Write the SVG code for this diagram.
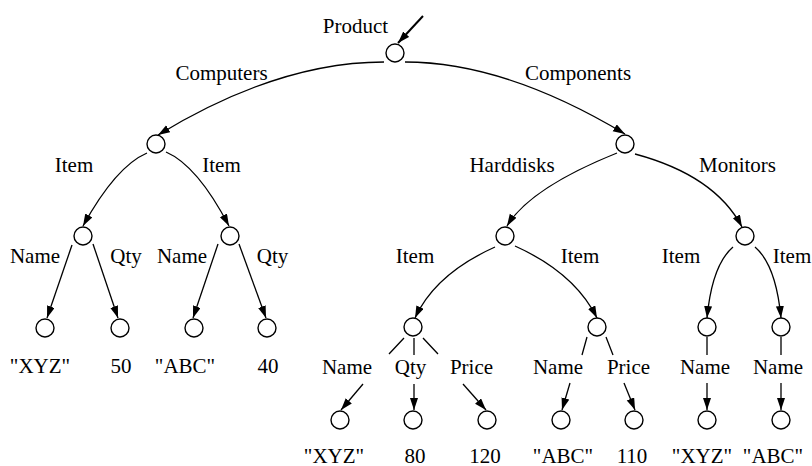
<svg xmlns="http://www.w3.org/2000/svg" width="812" height="466" viewBox="0 0 812 466">
<style>
  text { font-family: "Liberation Serif", "Times New Roman", serif; font-size: 21px; fill: #000; text-anchor: middle; }
  .node { fill: #fff; stroke: #000; stroke-width: 1.4; }
  .edge { fill: none; stroke: #000; stroke-width: 1.3; }
  .arr { marker-end: url(#ah); }
</style>
<defs>
  <marker id="ah" markerUnits="userSpaceOnUse" markerWidth="13" markerHeight="9" refX="12" refY="4" orient="auto">
    <path d="M0,0 L12,4 L0,8 z" fill="#000"/>
  </marker>
</defs>
<rect width="812" height="466" fill="#fff"/>

<g id="connectors">
  <path class="edge" d="M423,16 L398,43" style="stroke-width:2" marker-end="url(#ah)"/>
  <path class="edge arr" d="M384,62 Q278,62 158,135"/>
  <path class="edge arr" d="M405,62 Q505,62 625,134"/>
  <path class="edge arr" d="M147,153 Q115.7,166.5 83,226"/>
  <path class="edge arr" d="M166,152 Q197.3,165.5 229,226"/>
  <path class="edge arr" d="M617,153 Q530,188 507,226"/>
  <path class="edge arr" d="M635,154 Q715,175.5 742,227"/>
  <path class="edge arr" d="M72,245 L47,318"/>
  <path class="edge arr" d="M93,244 L118,318"/>
  <path class="edge arr" d="M218,244 L193,318"/>
  <path class="edge arr" d="M239,244 L266,318"/>
  <path class="edge arr" d="M495,247 Q435.3,273.9 415,318"/>
  <path class="edge arr" d="M515,246 Q574.7,272.9 597,318"/>
  <path class="edge arr" d="M733,247 Q712,265 707,318"/>
  <path class="edge arr" d="M755,247 Q776,265 781,318"/>
  <path class="edge" d="M404,338 L389,354 M414,338 L414,355 M423,338 L438,354"/>
  <path class="edge arr" d="M363,384 L341,410"/>
  <path class="edge arr" d="M414,384 L414,410"/>
  <path class="edge arr" d="M463,384 L486,410"/>
  <path class="edge" d="M587,337 L582,355 M606,337 L613,355"/>
  <path class="edge arr" d="M570,383 L562,410"/>
  <path class="edge arr" d="M624,383 L635,410"/>
  <path class="edge" d="M707,337 L707,355 M781,337 L781,355"/>
  <path class="edge arr" d="M707,383 L707,410"/>
  <path class="edge arr" d="M781,383 L781,410"/>
  <text x="221.5" y="80">Computers</text>
  <text x="578" y="80">Components</text>
  <text x="74" y="172">Item</text>
  <text x="221.5" y="172">Item</text>
  <text x="512" y="172">Harddisks</text>
  <text x="737.5" y="172">Monitors</text>
  <text x="35" y="263">Name</text>
  <text x="126" y="263">Qty</text>
  <text x="182" y="263">Name</text>
  <text x="272.5" y="263">Qty</text>
  <text x="415" y="263">Item</text>
  <text x="580" y="263">Item</text>
  <text x="681" y="263">Item</text>
  <text x="792" y="263">Item</text>
  <text x="347" y="374">Name</text>
  <text x="410.5" y="374">Qty</text>
  <text x="471.5" y="374">Price</text>
  <text x="558" y="374">Name</text>
  <text x="628.5" y="374">Price</text>
  <text x="705" y="374">Name</text>
  <text x="778" y="374">Name</text>
</g>

<g id="root"><circle class="node" cx="395" cy="53" r="9"/><text x="355.5" y="33">Product</text></g>
<g id="computers"><circle class="node" cx="156" cy="144" r="9"/></g>
<g id="components"><circle class="node" cx="625" cy="144" r="9"/></g>
<g id="c-item1"><circle class="node" cx="83" cy="236" r="9"/></g>
<g id="c-item2"><circle class="node" cx="230" cy="236" r="9"/></g>
<g id="c1-name"><circle class="node" cx="45" cy="328" r="9"/><text x="40" y="373">"XYZ"</text></g>
<g id="c1-qty"><circle class="node" cx="120" cy="328" r="9"/><text x="121" y="373">50</text></g>
<g id="c2-name"><circle class="node" cx="194" cy="328" r="9"/><text x="185" y="373">"ABC"</text></g>
<g id="c2-qty"><circle class="node" cx="267" cy="328" r="9"/><text x="268" y="373">40</text></g>
<g id="harddisks"><circle class="node" cx="505" cy="236" r="9"/></g>
<g id="monitors"><circle class="node" cx="745" cy="236" r="9"/></g>
<g id="h-item1"><circle class="node" cx="413" cy="327" r="9"/></g>
<g id="h-item2"><circle class="node" cx="597" cy="327" r="9"/></g>
<g id="m-item1"><circle class="node" cx="707" cy="327" r="9"/></g>
<g id="m-item2"><circle class="node" cx="781" cy="327" r="9"/></g>
<g id="h1-name"><circle class="node" cx="340" cy="420" r="9"/><text x="334" y="463">"XYZ"</text></g>
<g id="h1-qty"><circle class="node" cx="413" cy="420" r="9"/><text x="415" y="463">80</text></g>
<g id="h1-price"><circle class="node" cx="487" cy="420" r="9"/><text x="485" y="463">120</text></g>
<g id="h2-name"><circle class="node" cx="561" cy="420" r="9"/><text x="563" y="463">"ABC"</text></g>
<g id="h2-price"><circle class="node" cx="634" cy="420" r="9"/><text x="632" y="463">110</text></g>
<g id="m1-name"><circle class="node" cx="707" cy="420" r="9"/><text x="702" y="463">"XYZ"</text></g>
<g id="m2-name"><circle class="node" cx="781" cy="420" r="9"/><text x="773" y="463">"ABC"</text></g>
</svg>
